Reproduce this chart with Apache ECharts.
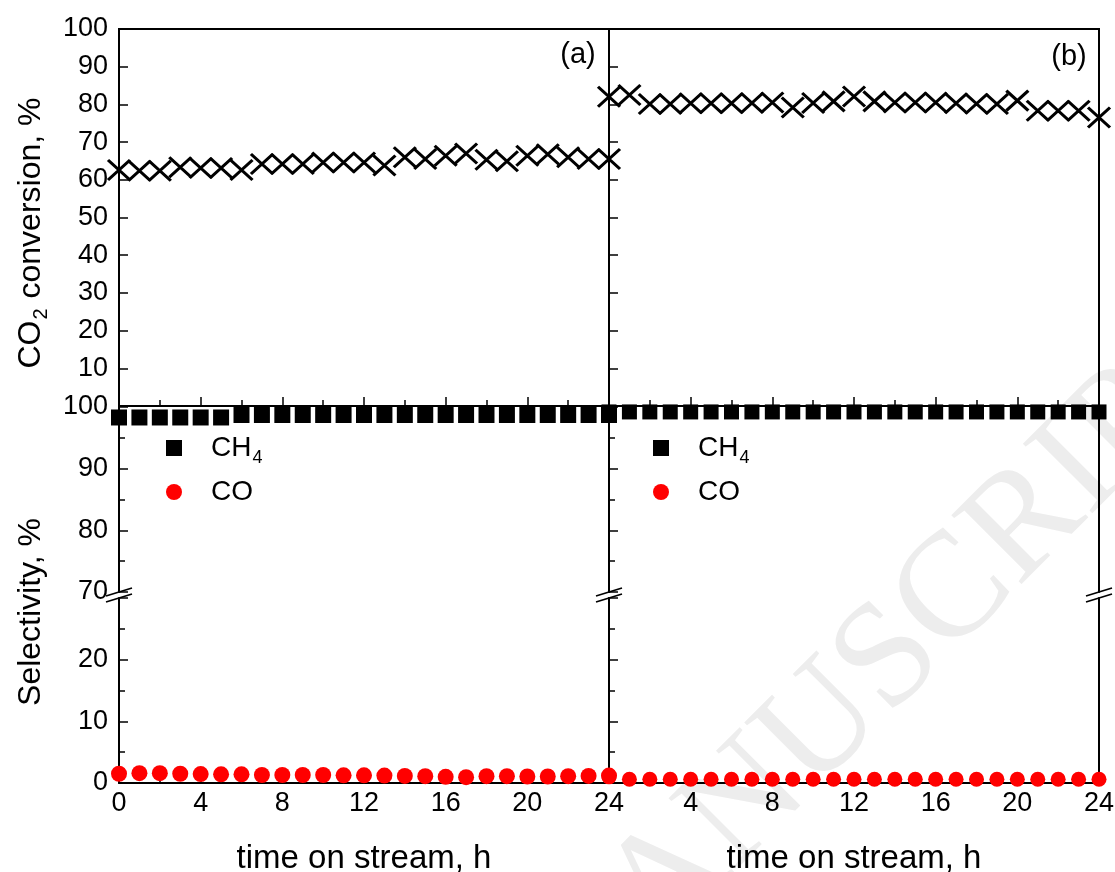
<!DOCTYPE html>
<html><head><meta charset="utf-8">
<script src="https://cdn.jsdelivr.net/npm/echarts@6/dist/echarts.min.js"></script>
<style>html,body{margin:0;padding:0;background:#fff}#c{width:1115px;height:872px}</style>
</head><body><div id="c"></div>
<script>
// ---- data ----
const hours = [0,1,2,3,4,5,6,7,8,9,10,11,12,13,14,15,16,17,18,19,20,21,22,23,24];
const convA = [62.6,62.4,62.4,63.3,63.1,63.1,62.6,64.2,64.2,64.2,64.6,64.6,64.6,63.8,66.0,65.5,66.4,67.0,65.3,64.9,66.4,66.8,66.0,65.5,65.5];
const convB = [82.0,82.5,80.1,80.1,80.3,80.3,80.3,80.4,80.5,79.2,80.4,80.8,82.1,80.8,80.5,80.5,80.5,80.3,80.2,80.1,81.0,78.3,78.3,78.3,76.5];
const ch4A = [98.3,98.3,98.3,98.3,98.3,98.3,98.7,98.7,98.7,98.7,98.7,98.7,98.7,98.7,98.7,98.7,98.7,98.7,98.7,98.7,98.7,98.7,98.7,98.7,98.7];
const ch4B = [99.2,99.2,99.2,99.2,99.2,99.2,99.2,99.2,99.2,99.2,99.2,99.2,99.2,99.2,99.2,99.2,99.2,99.2,99.2,99.2,99.2,99.2,99.2,99.2,99.2];
const coA = [1.5,1.6,1.6,1.5,1.45,1.4,1.4,1.3,1.3,1.3,1.3,1.25,1.25,1.2,1.15,1.1,1.0,0.95,1.1,1.1,1.05,1.05,1.1,1.15,1.2];
const coB = [1.0,0.6,0.6,0.6,0.6,0.6,0.6,0.6,0.6,0.6,0.6,0.6,0.6,0.6,0.6,0.6,0.6,0.6,0.6,0.6,0.6,0.6,0.6,0.6,0.6];
const xTickStep = 4;
const convRange = [0, 100];
const selUpperRange = [70, 100];
const selLowerRange = [0, 30];
const tickStep = 10;
const panelLabels = ['(a)', '(b)'];
const seriesNames = ['CH4', 'CO'];

// ---- layout ----
const FONT = '"Liberation Sans", Arial, sans-serif';
const L = [119, 609], W = 490;
const ROWS = [{t: 29, h: 377}, {t: 407, h: 185}, {t: 598, h: 185}];
const chart = echarts.init(document.getElementById('c'));

const grids = [];
ROWS.forEach((g, r) => L.forEach(l => grids.push({
  left: l, top: g.t, width: W, height: g.h, show: r === 0,
  borderColor: '#000', borderWidth: 2, backgroundColor: 'transparent',
  containLabel: false, outerBoundsMode: 'none'
})));

const lineBlack = {show: true, lineStyle: {color: '#000', width: 2}};
const tickIn = {show: true, inside: true, length: 9, lineStyle: {color: '#000', width: 1.5}};
const minorIn = {show: true, splitNumber: 2, length: 6, lineStyle: {color: '#000', width: 1.5}};
const labelStyle = {fontSize: 27, color: '#000', fontFamily: FONT};

const xAxes = grids.map((g, i) => {
  const row = Math.floor(i / 2), col = i % 2;
  const base = {type: 'value', gridIndex: i, min: 0, max: 24, interval: xTickStep, splitLine: {show: false}};
  if (row === 0) return Object.assign(base, {position: 'bottom', axisLine: lineBlack, axisTick: tickIn, minorTick: minorIn, axisLabel: {show: false}});
  if (row === 1) return Object.assign(base, {show: false});
  return Object.assign(base, {
    position: 'bottom', axisLine: lineBlack, axisTick: tickIn, minorTick: minorIn,
    axisLabel: Object.assign({show: true, margin: 7, formatter: v => (col === 1 && v === 0) ? '' : String(v)}, labelStyle),
    name: 'time on stream, h', nameLocation: 'middle', nameGap: 59,
    nameTextStyle: {fontSize: 33, color: '#000', fontFamily: FONT}
  });
});

const yAxes = [];
const yIndexFor = [];
grids.forEach((g, i) => {
  const row = Math.floor(i / 2), col = i % 2;
  const range = row === 0 ? convRange : (row === 1 ? selUpperRange : selLowerRange);
  const hideVal = row === 0 ? 0 : (row === 2 ? 30 : null);
  yIndexFor.push(yAxes.length);
  yAxes.push({
    type: 'value', gridIndex: i, min: range[0], max: range[1], interval: tickStep,
    position: 'left', splitLine: {show: false}, axisLine: lineBlack, axisTick: tickIn,
    minorTick: row === 0 ? {show: false} : minorIn,
    axisLabel: Object.assign({show: col === 0, margin: 11, formatter: v => v === hideVal ? '' : String(v)}, labelStyle)
  });
  if (row > 0) {
    yAxes.push({
      type: 'value', gridIndex: i, min: range[0], max: range[1], interval: tickStep,
      position: 'right', splitLine: {show: false}, axisLine: lineBlack,
      axisTick: {show: false}, axisLabel: {show: false}
    });
  }
});

const pairs = arr => hours.map((h, k) => [h, arr[k]]);
const xSym = 'path://M0,0L20,19M20,0L0,19';
const xStyle = {color: 'transparent', borderColor: '#000', borderWidth: 3, opacity: 1};
const series = [
  {name: 'conv', type: 'scatter', xAxisIndex: 0, yAxisIndex: yIndexFor[0], data: pairs(convA), symbol: xSym, symbolSize: [22, 20], itemStyle: xStyle},
  {name: 'conv', type: 'scatter', xAxisIndex: 1, yAxisIndex: yIndexFor[1], data: pairs(convB), symbol: xSym, symbolSize: [22, 20], itemStyle: xStyle},
  {name: seriesNames[0], type: 'scatter', xAxisIndex: 2, yAxisIndex: yIndexFor[2], data: pairs(ch4A), symbol: 'rect', symbolSize: 16, itemStyle: {color: '#000', opacity: 1}},
  {name: seriesNames[0], type: 'scatter', xAxisIndex: 3, yAxisIndex: yIndexFor[3], data: pairs(ch4B), symbol: 'rect', symbolSize: 15, itemStyle: {color: '#000', opacity: 1}},
  {name: seriesNames[1], type: 'scatter', xAxisIndex: 4, yAxisIndex: yIndexFor[4], data: pairs(coA), symbol: 'circle', symbolSize: 16, itemStyle: {color: '#ff0000', opacity: 1}},
  {name: seriesNames[1], type: 'scatter', xAxisIndex: 5, yAxisIndex: yIndexFor[5], data: pairs(coB), symbol: 'circle', symbolSize: 15, itemStyle: {color: '#ff0000', opacity: 1}}
].map(s => Object.assign(s, {clip: false, silent: true, animation: false, z: 5}));

const legendFor = left => ({
  show: true, orient: 'vertical', left: left, top: 422, data: seriesNames,
  itemWidth: 16, itemHeight: 16, itemGap: 6, selectedMode: false,
  itemStyle: {opacity: 1},
  formatter: n => n === 'CH4' ? 'CH{sub|4}' : n,
  textStyle: {fontSize: 28, color: '#000', fontFamily: FONT, padding: [0, 0, 0, 24], lineHeight: 38,
    rich: {sub: {fontSize: 18, fontFamily: FONT, color: '#000', verticalAlign: 'bottom', lineHeight: 18, padding: [22, 0, 0, 1]}}}
});

chart.setOption({
  animation: false,
  backgroundColor: '#fff',
  grid: grids, xAxis: xAxes, yAxis: yAxes, series: series,
  legend: [legendFor(161), legendFor(648)]
});

// decorations: titles, panel labels, axis-break marks, watermark
const pA = chart.convertToPixel({gridIndex: 0}, [24, 100]);
const pB = chart.convertToPixel({gridIndex: 1}, [24, 100]);
const up0 = chart.convertToPixel({gridIndex: 2}, [0, selUpperRange[0]]);
const up24 = chart.convertToPixel({gridIndex: 2}, [24, selUpperRange[0]]);
const up24b = chart.convertToPixel({gridIndex: 3}, [24, selUpperRange[0]]);
const lo0 = chart.convertToPixel({gridIndex: 4}, [0, selLowerRange[1]]);
const breakXs = [up0[0], up24[0], up24b[0]];
const graphics = [];
breakXs.forEach(x => {
  [up0[1], lo0[1]].forEach(y => graphics.push({
    type: 'line', silent: true, z: 50,
    shape: {x1: x - 13, y1: y + 4, x2: x + 13, y2: y - 4},
    style: {stroke: '#000', lineWidth: 1.8}
  }));
});
graphics.push({type: 'text', x: pA[0] - 31, y: pA[1] + 26, silent: true, z: 50,
  style: {text: panelLabels[0], fontSize: 29, fontFamily: FONT, fill: '#000', align: 'center', verticalAlign: 'middle'}});
graphics.push({type: 'text', x: pB[0] - 30, y: pB[1] + 28, silent: true, z: 50,
  style: {text: panelLabels[1], fontSize: 29, fontFamily: FONT, fill: '#000', align: 'center', verticalAlign: 'middle'}});
graphics.push({type: 'text', x: 31, y: 233, rotation: Math.PI / 2, silent: true, z: 50,
  style: {text: 'CO{sub|2} conversion, %', fontSize: 32, fontFamily: FONT, fill: '#000', align: 'center', verticalAlign: 'middle',
    rich: {sub: {fontSize: 20, fontFamily: FONT, fill: '#000', verticalAlign: 'bottom', padding: [20, 1, 0, 1]}}}});
graphics.push({type: 'text', x: 31, y: 612, rotation: Math.PI / 2, silent: true, z: 50,
  style: {text: 'Selectivity, %', fontSize: 32, fontFamily: FONT, fill: '#000', align: 'center', verticalAlign: 'middle'}});
graphics.push({type: 'text', x: 878, y: 672, rotation: Math.PI / 4, silent: true, z: -10,
  style: {text: 'MANUSCRIPT', fontSize: 150, fontFamily: '"Liberation Serif", serif', fill: '#ededed', align: 'center', verticalAlign: 'middle'}});
chart.setOption({graphic: graphics});
</script>
</body></html>
